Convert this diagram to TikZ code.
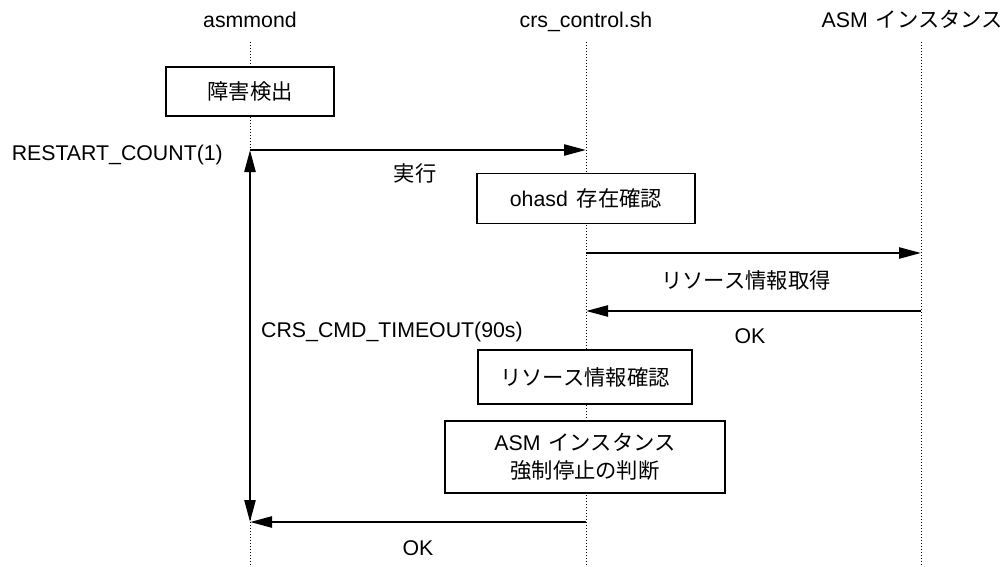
\documentclass[tikz,border=0pt]{standalone}
\usepackage{fontspec}
\setmainfont{Liberation Sans}
\newfontfamily\jp{Noto Sans CJK JP}
\usetikzlibrary{arrows.meta}
\begin{document}
\begin{tikzpicture}[x=1pt,y=-1pt,
  txt/.style={font=\fontsize{21.3pt}{27pt}\selectfont, inner sep=0pt},
  procbox/.style={txt, draw, line width=1.8pt, fill=white, align=center},
  lifeline/.style={line width=1pt, dotted},
  msg/.style={line width=2.5pt, -{Triangle[length=22pt,width=11pt]}},
  dmsg/.style={line width=2.5pt, {Triangle[length=22pt,width=11pt]}-{Triangle[length=22pt,width=11pt]}}
]
\useasboundingbox (0,0) rectangle (1006,567);
\fill[white] (0,0) rectangle (1006,567);

% headers
\node[txt, anchor=base] (hA) at (250,28) {asmmond};
\node[txt, anchor=base] (hC) at (586,28) {crs\_control.sh};
\node[txt, anchor=base east] (hS) at (1003,28) {ASM\hspace{8pt}{\jp インスタンス}};

% lifelines
\coordinate (lA0) at (250,42); \coordinate (lA1) at (250,567);
\coordinate (lC0) at (586,42); \coordinate (lC1) at (586,567);
\coordinate (lS0) at (921,42); \coordinate (lS1) at (921,567);
\draw[lifeline] (lA0) -- (lA1);
\draw[lifeline] (lC0) -- (lC1);
\draw[lifeline] (lS0) -- (lS1);

% boxes
\node[procbox, minimum width=168pt, minimum height=49pt] (b1) at (250,91.5) {{\jp 障害検出}};
\node[procbox, minimum width=218pt, minimum height=50pt] (b2) at (586,198.5) {ohasd\hspace{9pt}{\jp 存在確認}};
\node[procbox, minimum width=214pt, minimum height=54pt] (b3) at (585,377) {{\jp リソース情報確認}};
\node[procbox, minimum width=280pt, minimum height=72pt] (b4) at (585,457) {ASM\hspace{8pt}{\jp インスタンス}\\[1pt]{\jp 強制停止の判断}};

% message points
\coordinate (m1a) at (250,150); \coordinate (m1c) at (586,150);
\coordinate (m2c) at (586,253); \coordinate (m2s) at (921,253);
\coordinate (m3s) at (921,311); \coordinate (m3c) at (586,311);
\coordinate (m4c) at (586,522); \coordinate (m4a) at (250,522);

\draw[msg] (m1a) -- (m1c);
\draw[msg] (m2c) -- (m2s);
\draw[msg] (m3s) -- (m3c);
\draw[msg] (m4c) -- (m4a);
\draw[dmsg] (m1a) -- (m4a);

% labels
\node[txt, anchor=base east] (lRC) at (223,160) {RESTART\_COUNT(1)};
\node[txt] (lEx) at (415,173) {{\jp 実行}};
\node[txt] (lRI) at (746,280) {{\jp リソース情報取得}};
\node[txt, anchor=base] (lOK1) at (750,343) {OK};
\node[txt, anchor=base west] (lTO) at (261,337) {CRS\_CMD\_TIMEOUT(90s)};
\node[txt, anchor=base] (lOK2) at (418,555) {OK};
\end{tikzpicture}
\end{document}
